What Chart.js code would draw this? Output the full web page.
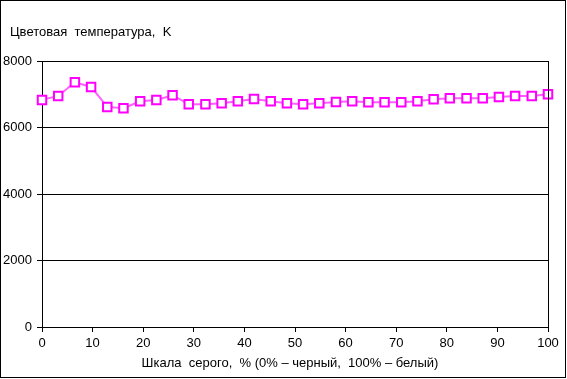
<!DOCTYPE html>
<html lang="ru">
  <head>
    <meta charset="utf-8" />
    <script src="https://cdn.jsdelivr.net/npm/chart.js@4.4.0/dist/chart.umd.min.js"></script>
    <title>Цветовая температура</title>
    <style>
      body { margin: 0; background: #fff; }
      #chart { display: block; }
    </style>
  </head>
  <body>
    <canvas id="chart" width="567" height="379"></canvas>
    <script>
      // шкала серого, % и цветовая температура, K
      const grayLevels = [0, 3.2, 6.5, 9.7, 12.9, 16.1, 19.4, 22.6, 25.8, 29, 32.3, 35.5, 38.7, 41.9, 45.2, 48.4,
                          51.6, 54.8, 58.1, 61.3, 64.5, 67.7, 71, 74.2, 77.4, 80.6, 83.9, 87.1, 90.3, 93.5, 96.8, 100];
      const colorTemps = [6830, 6950, 7360, 7220, 6620, 6580, 6790, 6830, 6970, 6700, 6700, 6730, 6790, 6860, 6790, 6730,
                          6700, 6730, 6770, 6790, 6760, 6760, 6760, 6790, 6850, 6880, 6880, 6880, 6920, 6950, 6950, 7000];
      const yTicks = [0, 2000, 4000, 6000, 8000];
      const xTicks = [0, 10, 20, 30, 40, 50, 60, 70, 80, 90, 100];

      const chartTitle = 'Цветовая  температура,  K';
      const xTitle = 'Шкала  серого,  % (0% – черный,  100% – белый)';

      const font = { family: '"Liberation Sans", Arial, sans-serif', size: 13 };

      const frame = {
        id: 'frame',
        beforeDraw(chart) {
          const ctx = chart.ctx;
          ctx.save();
          ctx.fillStyle = '#fff';
          ctx.fillRect(0, 0, chart.width, chart.height);
          ctx.restore();
        },
        afterDraw(chart) {
          const ctx = chart.ctx;
          const a = chart.chartArea;
          ctx.save();
          ctx.strokeStyle = '#000';
          ctx.lineWidth = 1;
          ctx.strokeRect(0.5, 0.5, 565, 377);
          ctx.beginPath();
          ctx.moveTo(Math.round(a.right) + 0.5, a.top);
          ctx.lineTo(Math.round(a.right) + 0.5, a.bottom);
          ctx.stroke();
          ctx.fillStyle = '#000';
          ctx.font = '13px "Liberation Sans", Arial, sans-serif';
          ctx.textBaseline = 'middle';
          ctx.fillText(chartTitle, 10, 32);
          ctx.textAlign = 'center';
          ctx.fillText(xTitle, 290, 363);
          ctx.restore();
        }
      };

      new Chart(document.getElementById('chart').getContext('2d'), {
        type: 'line',
        data: {
          datasets: [{
            data: grayLevels.map((x, i) => ({ x: x, y: colorTemps[i] })),
            borderColor: '#ff60ff',
            borderWidth: 2,
            pointStyle: 'rect',
            pointRadius: 6,
            pointBorderColor: '#ff00ff',
            pointBackgroundColor: '#fff',
            pointBorderWidth: 2,
            tension: 0,
            clip: false
          }]
        },
        options: {
          responsive: false,
          animation: false,
          layout: { padding: { top: 61, right: 19, left: 0, bottom: 0 } },
          plugins: { legend: { display: false }, tooltip: { enabled: false } },
          scales: {
            x: {
              type: 'linear',
              min: 0,
              max: 100,
              afterBuildTicks(scale) { scale.ticks = xTicks.map(v => ({ value: v })); },
              afterFit(scale) { scale.height = 52; },
              grid: { drawOnChartArea: false, color: '#000', tickLength: 5 },
              border: { color: '#000' },
              ticks: { color: '#000', font: font, padding: 4, maxRotation: 0, callback: v => String(v) }
            },
            y: {
              min: 0,
              max: 8000,
              afterBuildTicks(scale) { scale.ticks = yTicks.map(v => ({ value: v })); },
              afterFit(scale) { scale.width = 42; },
              grid: { color: '#000', tickLength: 5 },
              border: { color: '#000' },
              ticks: { color: '#000', font: font, padding: 5, callback: v => String(v) }
            }
          }
        },
        plugins: [frame]
      });
    </script>
  </body>
</html>
